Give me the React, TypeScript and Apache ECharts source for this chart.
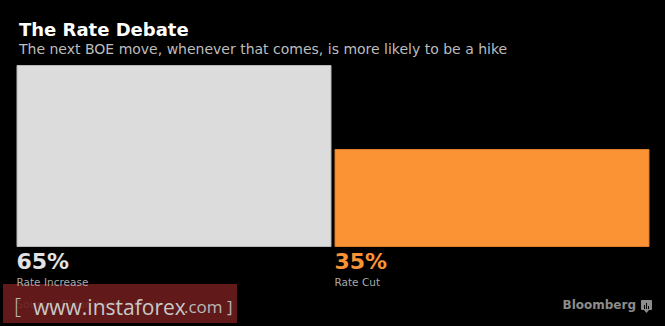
import React, { useEffect, useRef } from "react";
import * as echarts from "echarts";

const categories = ["Rate Increase", "Rate Cut"];
const values = [65, 35];
const barColors = ["#dcdcdc", "#fb9334"];
const barBorders = ["#b8b8b8", "#d97a28"];
const valueColors = ["#e2e2e2", "#fb9334"];
const titleText = "The Rate Debate";
const subtitleText = "The next BOE move, whenever that comes, is more likely to be a hike";
const sourceText = "Source: Bloomberg survey";
const brandText = "Bloomberg";

const FONT = "'DejaVu Sans', Verdana, sans-serif";

export default function App() {
  const ref = useRef<HTMLDivElement>(null);
  useEffect(() => {
    if (!ref.current) return;
    const chart = echarts.init(ref.current, undefined, { renderer: "svg" });
    chart.setOption({
      animation: false,
      backgroundColor: "#000000",
      title: {
        text: titleText,
        subtext: subtitleText,
        left: 14,
        top: 15,
        itemGap: 4,
        textStyle: { color: "#ffffff", fontFamily: FONT, fontWeight: "bold", fontSize: 18 },
        subtextStyle: { color: "#bdbdbd", fontFamily: FONT, fontSize: 14 },
      },
      grid: { left: 15, right: 14, top: 65, bottom: 79, containLabel: false },
      xAxis: {
        type: "category",
        data: categories,
        show: false,
      },
      yAxis: { type: "value", min: 0, max: 65, show: false, splitLine: { show: false } },
      series: [
        {
          type: "bar",
          barWidth: 315,
          data: values.map((v, i) => ({
            value: v,
            itemStyle: { color: barColors[i], borderColor: barBorders[i], borderWidth: 1 },
            label: {
              rich: {
                v: { color: valueColors[i], fontSize: 22, fontWeight: "bold", fontFamily: FONT, lineHeight: 28 },
                n: { color: "#a8a8a8", fontSize: 10.5, fontFamily: FONT, lineHeight: 14 },
              },
            },
          })),
          label: {
            show: true,
            position: [0, "100%"],
            align: "left",
            verticalAlign: "top",
            formatter: (p: any) => `{v|${p.value}%}\n{n|${p.name}}`,
          },
        },
      ],
      graphic: [
        {
          type: "text",
          left: 16,
          top: 299,
          style: { text: sourceText, fill: "#8a8a8a", font: `11px ${FONT}` },
        },
        {
          type: "rect",
          shape: { x: 3, y: 284, width: 234, height: 39 },
          style: { fill: "rgba(110,28,28,0.88)" },
        },
        {
          type: "text",
          x: 14,
          y: 316,
          style: { text: "[", fill: "#b9b9b9", font: `300 22px 'Open Sans', sans-serif`, verticalAlign: "bottom" },
        },
        {
          type: "text",
          x: 33,
          y: 317,
          style: { text: "www.instaforex", fill: "#c9c9c9", font: `21px 'Open Sans', sans-serif`, verticalAlign: "bottom" },
        },
        {
          type: "text",
          x: 184,
          y: 315,
          style: { text: ".com ]", fill: "#b9b9b9", font: `17px 'Open Sans', sans-serif`, verticalAlign: "bottom" },
        },
        {
          type: "text",
          right: 29,
          top: 299,
          style: { text: brandText, fill: "#8c8c8c", font: `bold 12px ${FONT}` },
        },
        {
          type: "group",
          left: 641,
          top: 300,
          children: [
            { type: "rect", shape: { x: 0, y: 0, width: 11, height: 10, r: 1 }, style: { fill: "#8c8c8c" } },
            { type: "polygon", shape: { points: [[3, 10], [8, 10], [5.5, 13]] }, style: { fill: "#8c8c8c" } },
            { type: "rect", shape: { x: 3, y: 5, width: 1, height: 4 }, style: { fill: "#000" } },
            { type: "rect", shape: { x: 5, y: 3, width: 1, height: 6 }, style: { fill: "#000" } },
            { type: "rect", shape: { x: 7, y: 6, width: 1, height: 3 }, style: { fill: "#000" } },
          ],
        },
      ],
    });
    return () => chart.dispose();
  }, []);
  return <div ref={ref} style={{ width: 665, height: 326, position: "absolute", left: 0, top: 0 }} />;
}
